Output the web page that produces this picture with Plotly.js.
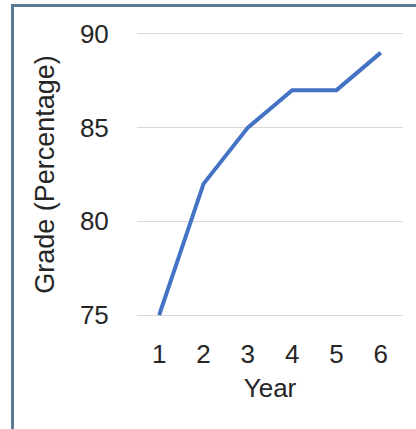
<!DOCTYPE html>
<html>
<head>
<meta charset="utf-8">
<script src="https://cdn.plot.ly/plotly-3.0.1.min.js"></script>
<style>
  html, body { margin: 0; padding: 0; background: #ffffff; }
  #wrap { position: relative; width: 416px; height: 429px; overflow: hidden; }
  #chart { position: absolute; left: 0; top: 0; width: 416px; height: 429px; }
  #frame { position: absolute; left: 11px; top: 4px; width: 420px; height: 440px;
           border-left: 3px solid #5b7b95; border-top: 3px solid #5b7b95; pointer-events: none; }
</style>
</head>
<body>
<div id="wrap">
  <div id="chart"></div>
  <div id="frame"></div>
</div>
<script>
const years = [1, 2, 3, 4, 5, 6];
const grades = [75, 82, 85, 87, 87, 89];
const yTicks = [75, 80, 85, 90];
const xTitle = "Year";
const yTitle = "Grade (Percentage)";

const tickFont = { family: "Liberation Sans, Arial, sans-serif", size: 26, color: "#262626" };
const xTitleFont = { family: "Liberation Sans, Arial, sans-serif", size: 26, color: "#262626" };
const yTitleFont = { family: "Liberation Sans, Arial, sans-serif", size: 27, color: "#262626" };

Plotly.newPlot("chart", [{
  x: years,
  y: grades,
  type: "scatter",
  mode: "lines",
  line: { color: "#4472c4", width: 4 },
  hoverinfo: "skip"
}], {
  width: 416,
  height: 429,
  margin: { l: 137, r: 13, t: 32, b: 112, pad: 0 },
  paper_bgcolor: "#ffffff",
  plot_bgcolor: "#ffffff",
  font: tickFont,
  showlegend: false,
  xaxis: {
    range: [0.5, 6.5],
    tickvals: years,
    ticktext: years.map(String),
    showgrid: false,
    zeroline: false,
    showline: false,
    ticks: "outside",
    ticklen: 14,
    tickcolor: "rgba(0,0,0,0)",
    tickfont: tickFont,
    title: { text: xTitle, font: xTitleFont, standoff: 10 }
  },
  yaxis: {
    range: [74.9, 90.1],
    tickvals: yTicks,
    ticktext: yTicks.map(String),
    showgrid: true,
    gridcolor: "#d9d9d9",
    gridwidth: 1,
    zeroline: false,
    showline: false,
    ticks: "outside",
    ticklen: 22,
    tickcolor: "rgba(0,0,0,0)",
    tickfont: tickFont,
    title: { text: yTitle, font: yTitleFont, standoff: 17 }
  }
}, { staticPlot: true, displayModeBar: false });
</script>
</body>
</html>
